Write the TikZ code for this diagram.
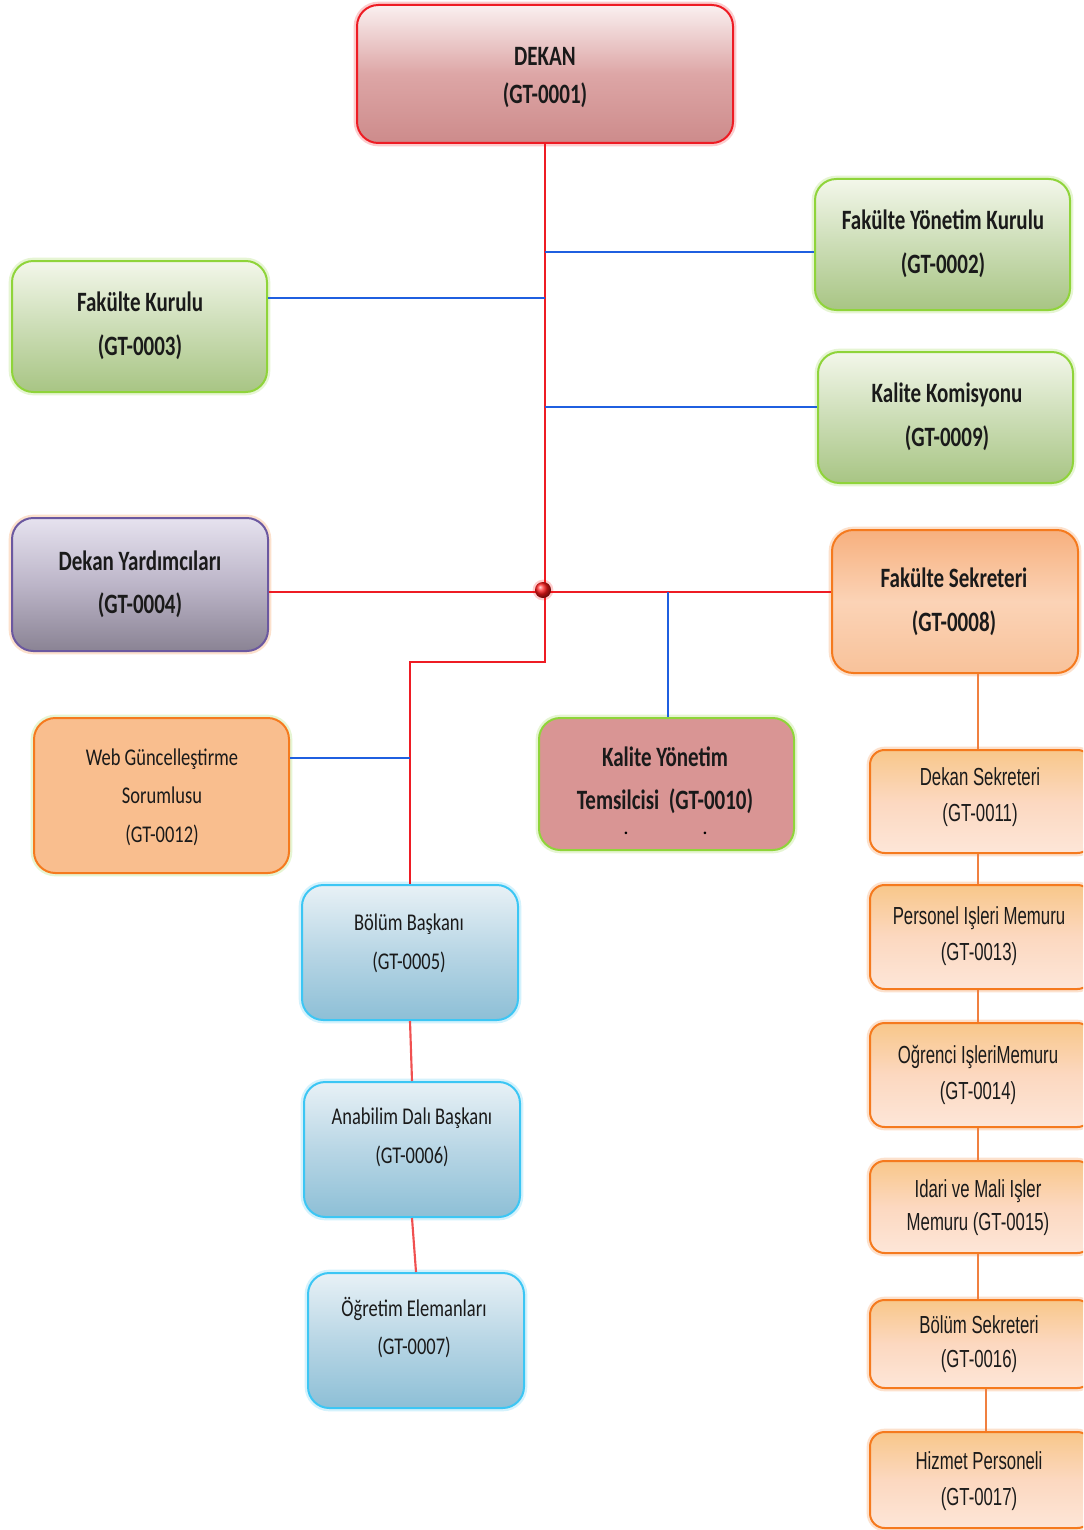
\documentclass[tikz,border=0pt]{standalone}
\usepackage{fontspec}
\setmainfont{Carlito}
\newfontfamily\calf[FakeStretch=0.75]{Carlito}
\newfontfamily\calr[FakeStretch=0.77]{Carlito}
\newfontfamily\narf[FakeStretch=0.68]{Liberation Sans}
\usetikzlibrary{positioning}
\definecolor{redln}{HTML}{EE1C24}
\definecolor{redlt}{HTML}{F05050}
\definecolor{blueln}{HTML}{1F5FE0}
\definecolor{orgln}{HTML}{F08040}
\definecolor{dkTop}{HTML}{FAF0F0}
\definecolor{dkMid}{HTML}{DDA6A6}
\definecolor{dkBot}{HTML}{CD8B8B}
\definecolor{grTop}{HTML}{F3F7EA}
\definecolor{grMid}{HTML}{CCDDB6}
\definecolor{grBot}{HTML}{A8C584}
\definecolor{grBd}{HTML}{8FD43A}
\definecolor{puTop}{HTML}{E6E2EF}
\definecolor{puMid}{HTML}{BCB5C8}
\definecolor{puBot}{HTML}{8A8394}
\definecolor{puBd}{HTML}{6B58A0}
\definecolor{fsTop}{HTML}{F7B07E}
\definecolor{fsMid}{HTML}{FBD3B6}
\definecolor{fsBot}{HTML}{F8C29A}
\definecolor{orBd}{HTML}{F57A1E}
\definecolor{webF}{HTML}{F9BE8E}
\definecolor{kyF}{HTML}{D99594}
\definecolor{blTop}{HTML}{E8F1F6}
\definecolor{blMid}{HTML}{B8D6E5}
\definecolor{blBot}{HTML}{8DBFD6}
\definecolor{blBd}{HTML}{3CC6F4}
\definecolor{rcTop}{HTML}{F8C78A}
\definecolor{rcMid}{HTML}{FCD8C0}
\definecolor{rcBot}{HTML}{FDE6D8}
\definecolor{txt}{HTML}{1A1A1A}
\begin{document}
\begin{tikzpicture}[x=0.75pt,y=-0.75pt,
  box/.style={rounded corners=16pt, inner sep=0pt, line width=1.5pt,
    preaction={draw=#1, line width=5pt, draw opacity=0.22}},
  rbox/.style={box=orBd, rounded corners=11pt, draw=orBd, top color=rcTop, bottom color=rcBot, middle color=rcMid,
    minimum width=166.5pt},
  ttop/.style={font=\calf\bfseries\fontsize{21}{33}\selectfont, align=center, inner sep=0pt, text=txt},
  treg/.style={font=\calr\fontsize{18}{29}\selectfont, align=center, inner sep=0pt, text=txt},
  tnar/.style={font=\narf\fontsize{18.5}{27}\selectfont, align=center, inner sep=0pt, text=txt},
  redline/.style={draw=redln, line width=1.9pt},
  redlite/.style={draw=redlt, line width=1.6pt},
  blueline/.style={draw=blueln, line width=1.8pt},
  orgline/.style={draw=orgln, line width=1.3pt}
]
\useasboundingbox (0,0) rectangle (1083,1530);
\clip (0,0) rectangle (1083,1530);
\fill[white] (0,0) rectangle (1083,1530);

% ---------- boxes ----------
\node[box=redln, draw=redln, top color=dkTop, bottom color=dkBot, middle color=dkMid,
  minimum width=282pt, minimum height=103.5pt] (dekan) at (545,74) {};
\node[box=grBd, draw=grBd, top color=grTop, bottom color=grBot, middle color=grMid,
  minimum width=191.25pt, minimum height=98.25pt] (fyk) at (942.5,244.5) {};
\node[box=grBd, draw=grBd, top color=grTop, bottom color=grBot, middle color=grMid,
  minimum width=191.25pt, minimum height=98.25pt] (fk) at (139.5,326.5) {};
\node[box=grBd, draw=grBd, top color=grTop, bottom color=grBot, middle color=grMid,
  minimum width=191.25pt, minimum height=98.25pt] (kk) at (945.5,417.5) {};
\node[box=orBd, draw=puBd, top color=puTop, bottom color=puBot, middle color=puMid,
  minimum width=192pt, minimum height=99.75pt] (dy) at (140,584.5) {};
\node[box=orBd, draw=orBd, top color=fsTop, bottom color=fsBot, middle color=fsMid,
  minimum width=184.5pt, minimum height=107.25pt] (fs) at (955,601.5) {};
\node[box=grBd, draw=orBd, fill=webF,
  minimum width=191.25pt, minimum height=116.25pt] (web) at (161.5,795.5) {};
\node[box=grBd, draw=grBd, fill=kyF,
  minimum width=191.25pt, minimum height=99pt] (kyt) at (666.5,784) {};
\node[box=blBd, draw=blBd, top color=blTop, bottom color=blBot, middle color=blMid,
  minimum width=162pt, minimum height=101.25pt] (bb) at (410,952.5) {};
\node[box=blBd, draw=blBd, top color=blTop, bottom color=blBot, middle color=blMid,
  minimum width=162pt, minimum height=101.25pt] (adb) at (412,1149.5) {};
\node[box=blBd, draw=blBd, top color=blTop, bottom color=blBot, middle color=blMid,
  minimum width=162pt, minimum height=101.25pt] (oe) at (416,1340.5) {};
\node[rbox, minimum height=77.25pt] (ds) at (981,801.5) {};
\node[rbox, minimum height=78pt] (pim) at (981,937) {};
\node[rbox, minimum height=78pt] (oim) at (981,1075) {};
\node[rbox, minimum height=69pt] (imi) at (981,1207) {};
\node[rbox, minimum height=66pt] (bs) at (981,1344) {};
\node[rbox, minimum height=72pt] (hp) at (981,1480) {};

% ---------- texts ----------
\node[ttop, font=\calf\bfseries\fontsize{21}{28.5}\selectfont] (tdekan) at (545,78) {DEKAN\\(GT-0001)};
\node[ttop] (tfyk) at (943,244) {Fakülte Yönetim Kurulu\\(GT-0002)};
\node[ttop] (tfk) at (140,326) {Fakülte Kurulu\\(GT-0003)};
\node[ttop] (tkk) at (947,417) {Kalite Komisyonu\\(GT-0009)};
\node[ttop, font=\calf\bfseries\fontsize{21}{32}\selectfont] (tdy) at (140,584.5) {Dekan Yardımcıları\\(GT-0004)};
\node[ttop] (tfs) at (954,602) {Fakülte Sekreteri\\(GT-0008)};
\node[treg] (tweb) at (162,797) {Web Güncelleştirme\\Sorumlusu\\(GT-0012)};
\node[ttop, font=\calf\bfseries\fontsize{21}{32}\selectfont] (tkyt) at (665,780.5) {Kalite Yönetim\\Temsilcisi~~(GT-0010)};
\node[inner sep=0pt, font=\fontsize{16}{16}\selectfont] (dot1) at (626,833) {.};
\node[inner sep=0pt, font=\fontsize{16}{16}\selectfont] (dot2) at (705,833) {.};
\node[treg] (tbb) at (409,943.5) {Bölüm Başkanı\\(GT-0005)};
\node[treg] (tadb) at (412,1137.5) {Anabilim Dalı Başkanı\\(GT-0006)};
\node[treg] (toe) at (414,1327.5) {Öğretim Elemanları\\(GT-0007)};
\node[tnar] (tds) at (980,797) {Dekan Sekreteri\\(GT-0011)};
\node[tnar] (tpim) at (979,936.5) {Personel Işleri Memuru\\(GT-0013)};
\node[tnar] (toim) at (978,1074.5) {Oğrenci IşleriMemuru\\(GT-0014)};
\node[tnar, font=\narf\fontsize{18.5}{25}\selectfont] (timi) at (978,1207.5) {Idari ve Mali Işler\\Memuru (GT-0015)};
\node[tnar, font=\narf\fontsize{18.5}{25.5}\selectfont] (tbs) at (979,1344) {Bölüm Sekreteri\\(GT-0016)};
\node[tnar] (thp) at (979,1481.5) {Hizmet Personeli\\(GT-0017)};

% ---------- connectors ----------
\coordinate (jn) at (545,592);
\coordinate (bend) at (545,662);
\coordinate (t1) at (545,252);
\coordinate (t2) at (545,298);
\coordinate (t3) at (545,407);
\coordinate (t4) at (668,592);
\coordinate (t5) at (410,758);

\draw[redline] (dekan.south) -- (jn);
\draw[redline] (jn) -- (bend) -| (bb.north);
\draw[redline] (dy.east |- jn) -- (jn) -- (fs.west |- jn);
\draw[blueline] (t1) -- (fyk.west |- t1);
\draw[blueline] (fk.east |- t2) -- (t2);
\draw[blueline] (t3) -- (kk.west |- t3);
\draw[blueline] (t4) -- (t4 |- kyt.north);
\draw[blueline] (web.east |- t5) -- (t5);
\draw[redlite] (bb.south) -- (adb.north);
\draw[redlite] (adb.south) -- (oe.north);
\draw[orgline] (ds.north -| 978,0) -- (fs.south -| 978,0);
\draw[orgline] (ds.south -| 978,0) -- (pim.north -| 978,0);
\draw[orgline] (pim.south -| 978,0) -- (oim.north -| 978,0);
\draw[orgline] (oim.south -| 978,0) -- (imi.north -| 978,0);
\draw[orgline] (imi.south -| 978,0) -- (bs.north -| 978,0);
\draw[orgline] (bs.south -| 986,0) -- (hp.north -| 986,0);

\node[circle, inner sep=0pt, minimum size=12pt, ball color=red!90,
  preaction={fill=red, fill opacity=0.2, draw=red, draw opacity=0.2, line width=3.5pt}] (ball) at (543,590) {};
\end{tikzpicture}
\end{document}
